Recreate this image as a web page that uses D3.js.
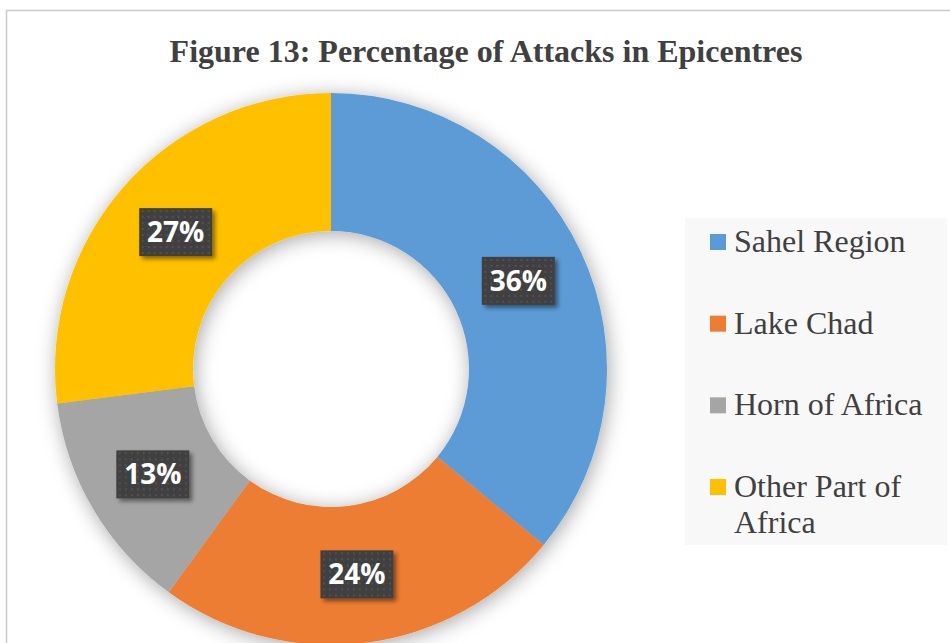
<!DOCTYPE html>
<html>
<head>
<meta charset="utf-8">
<script src="https://cdn.jsdelivr.net/npm/d3@7/dist/d3.min.js"></script>
<style>
html,body{margin:0;padding:0;background:#fff;}
svg{display:block;}
</style>
</head>
<body>
<svg id="chart" width="950" height="643"></svg>
<script>
const categories = ["Sahel Region", "Lake Chad", "Horn of Africa", "Other Part of Africa"];
const values = [36, 24, 13, 27];
const colors = ["#5B9BD5", "#ED7D31", "#A5A5A5", "#FFC000"];
const legendLines = [["Sahel Region"], ["Lake Chad"], ["Horn of Africa"], ["Other Part of", "Africa"]];
const title = "Figure 13: Percentage of Attacks in Epicentres";

const svg = d3.select("#chart");
const defs = svg.append("defs");

const sh = defs.append("filter").attr("id", "dshadow")
  .attr("x", "-20%").attr("y", "-20%").attr("width", "140%").attr("height", "140%");
sh.append("feDropShadow").attr("dx", 2).attr("dy", 3).attr("stdDeviation", 10)
  .attr("flood-color", "#000").attr("flood-opacity", 0.35);

const lsh = defs.append("filter").attr("id", "lshadow")
  .attr("x", "-30%").attr("y", "-30%").attr("width", "160%").attr("height", "160%");
lsh.append("feDropShadow").attr("dx", 3).attr("dy", 3).attr("stdDeviation", 2)
  .attr("flood-color", "#000").attr("flood-opacity", 0.45);

const pat = defs.append("pattern").attr("id", "dots")
  .attr("patternUnits", "userSpaceOnUse").attr("width", 6).attr("height", 6);
pat.append("rect").attr("width", 6).attr("height", 6).attr("fill", "#404040");
pat.append("circle").attr("cx", 3).attr("cy", 3).attr("r", 1).attr("fill", "#565656");

// frame
svg.append("rect").attr("x", 6.5).attr("y", 10.5).attr("width", 960).attr("height", 660)
  .attr("fill", "#fff").attr("stroke", "#c9c9c9").attr("stroke-width", 1.5);

// title
svg.append("text").attr("x", 486).attr("y", 62).attr("text-anchor", "middle")
  .attr("font-family", "'Liberation Serif','Times New Roman',serif")
  .attr("font-weight", "bold").attr("font-size", 32).attr("fill", "#404040")
  .text(title);

// donut
const cx = 331, cy = 369, R = 276, r = 138;
const pie = d3.pie().sort(null).value(d => d)(values);
const arc = d3.arc().innerRadius(r).outerRadius(R);
const g = svg.append("g").attr("transform", `translate(${cx},${cy})`);
g.append("g").attr("filter", "url(#dshadow)")
  .selectAll("path").data(pie).join("path")
  .attr("d", arc).attr("fill", (d, i) => colors[i]);

// labels
const midArc = d3.arc().innerRadius((r + R) / 2).outerRadius((r + R) / 2);
const lab = g.selectAll("g.lab").data(pie).join("g").attr("class", "lab")
  .attr("transform", d => { const c = midArc.centroid(d); return `translate(${c[0]},${c[1]})`; });
lab.append("rect").attr("x", -36.5).attr("y", -24).attr("width", 73).attr("height", 48)
  .attr("fill", "url(#dots)").attr("filter", "url(#lshadow)");
lab.append("text").attr("text-anchor", "middle").attr("y", 10)
  .attr("font-family", "'Open Sans','Noto Sans',sans-serif").attr("font-weight", "bold")
  .attr("font-size", 28).attr("fill", "#fff")
  .text(d => d.data + "%");

// legend
svg.append("rect").attr("x", 685).attr("y", 218).attr("width", 262).attr("height", 327)
  .attr("fill", "#f8f8f8");
const ly = d3.scalePoint().domain(categories).range([252, 497]);
const lg = svg.selectAll("g.leg").data(categories).join("g").attr("class", "leg");
lg.append("rect").attr("x", 710).attr("y", d => ly(d) - 18).attr("width", 16).attr("height", 16)
  .attr("fill", (d, i) => colors[i]);
lg.append("text").attr("x", 734).attr("y", d => ly(d))
  .attr("font-family", "'Liberation Serif','Times New Roman',serif")
  .attr("font-size", 32).attr("fill", "#404040")
  .each(function(d, i) {
    d3.select(this).selectAll("tspan").data(legendLines[i]).join("tspan")
      .attr("x", 734).attr("dy", (t, j) => j === 0 ? 0 : 36).text(t => t);
  });
</script>
</body>
</html>
